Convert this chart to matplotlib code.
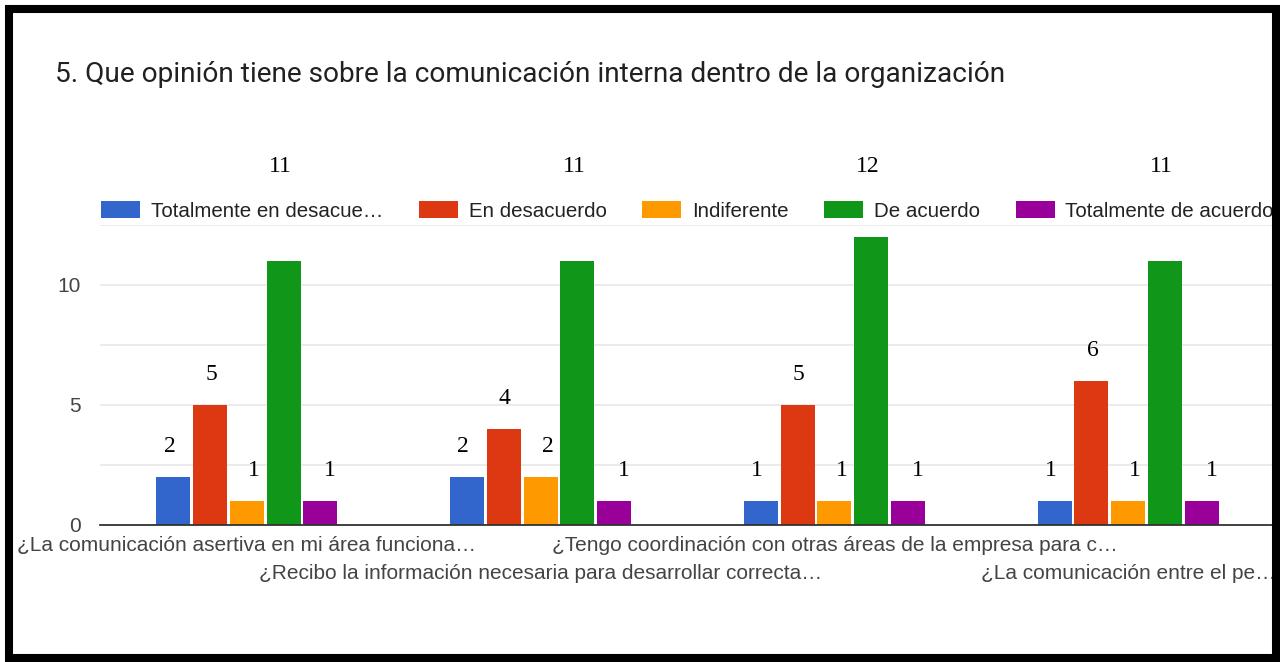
import matplotlib
import numpy as np

matplotlib.use("Agg")
import matplotlib.pyplot as plt
import matplotlib.transforms as mtransforms
from matplotlib.patches import Rectangle

# ---------------------------------------------------------------- data
TITLE = "5. Que opinión tiene sobre la comunicación interna dentro de la organización"
QUESTIONS = [
    "¿La comunicación asertiva en mi área funciona…",
    "¿Recibo la información necesaria para desarrollar correcta…",
    "¿Tengo coordinación con otras áreas de la empresa para c…",
    "¿La comunicación entre el pe…",
]
SERIES = [
    "Totalmente en desacue…",
    "En desacuerdo",
    "Indiferente",
    "De acuerdo",
    "Totalmente de acuerdo",
]
totalmente_desacuerdo = [2, 2, 1, 1]
en_desacuerdo = [5, 4, 5, 6]
indiferente = [1, 2, 1, 1]
de_acuerdo = [11, 11, 12, 11]
totalmente_acuerdo = [1, 1, 1, 1]
Y_TICKS = [0, 2.5, 5, 7.5, 10, 12.5]
Y_TICK_LABELS = ["0", "", "5", "", "10", ""]

# ---------------------------------------------------------------- style
COLORS = ["#3366cc", "#dc3912", "#ff9900", "#109618", "#990099"]
LABEL_DX = [-4, 1, 7, -3, 10]  # pixel nudges of the value labels per series
W, H = 1280, 662

plt.rcParams.update({
    "font.family": ["Liberation Sans", "DejaVu Sans"],
    "figure.facecolor": "white",
    "axes.facecolor": "white",
})

values = [totalmente_desacuerdo, en_desacuerdo, indiferente, de_acuerdo, totalmente_acuerdo]

fig = plt.figure(figsize=(W / 100, H / 100), dpi=100)
ax = fig.add_axes([100 / W, 137 / H, 1175 / W, 300 / H])

x = np.arange(len(QUESTIONS))
step, width = 0.125, 0.116
top_row = mtransforms.blended_transform_factory(ax.transData, fig.transFigure)

handles = []
for i, (name, vals, color) in enumerate(zip(SERIES, values, COLORS)):
    pos = x + (i - 2) * step
    bars = ax.bar(pos, vals, width=width, color=color, linewidth=0, label=name, zorder=3)
    handles.append(bars)
    for px, v in zip(pos, vals):
        if v >= 10:
            # tall bars: value printed in a row above the legend
            ax.annotate(str(v), (px, 496 / H), xycoords=top_row,
                        xytext=(LABEL_DX[i], 0), textcoords="offset pixels",
                        ha="center", va="center", fontsize=17,
                        family="Liberation Serif", color="black",
                        annotation_clip=False)
        else:
            ax.annotate(str(v), (px, v), xytext=(LABEL_DX[i], 31),
                        textcoords="offset pixels", ha="center", va="center",
                        fontsize=17, family="Liberation Serif", color="black",
                        annotation_clip=False)

ax.set_xlim(-0.5, 3.5)
ax.set_ylim(0, 12.5)
ax.set_yticks(Y_TICKS)
ax.set_yticklabels(Y_TICK_LABELS)
ax.grid(axis="y", color="#ebebeb", linewidth=1.4, zorder=0)
# category labels staggered on two rows: even ones on major ticks, odd on minor
ax.set_xticks(x[::2], QUESTIONS[::2])
ax.set_xticks(x[1::2], QUESTIONS[1::2], minor=True)
ax.tick_params(axis="x", which="major", length=0, pad=8, labelsize=15, labelcolor="#444444")
ax.tick_params(axis="x", which="minor", length=0, pad=28.2, labelsize=15, labelcolor="#444444")
ax.tick_params(axis="y", length=0, pad=14, labelsize=15, labelcolor="#444444")
for side in ("top", "right", "left"):
    ax.spines[side].set_visible(False)
ax.spines["bottom"].set_color("#333333")
ax.spines["bottom"].set_linewidth(1.3)
ax.spines["bottom"].set_zorder(4)

fig.text(55 / W, 587 / H, TITLE, family="Roboto", fontsize=20.15,
         color="#212121", ha="left", va="center")

fig.legend(handles, SERIES, loc="center left", bbox_to_anchor=(101 / W, 451 / H),
           ncol=5, frameon=False, fontsize=14.8, handlelength=1.9,
           handleheight=0.85, handletextpad=0.52, columnspacing=1.74,
           borderpad=0, borderaxespad=0, labelcolor="#222222")

# thick black frame around the whole screenshot
fig.patches.append(Rectangle((9 / W, 4 / H), 1267 / W, 649 / H,
                             transform=fig.transFigure, fill=False,
                             linewidth=5.8, edgecolor="black", zorder=10))

fig.savefig("out.png", dpi=100)
